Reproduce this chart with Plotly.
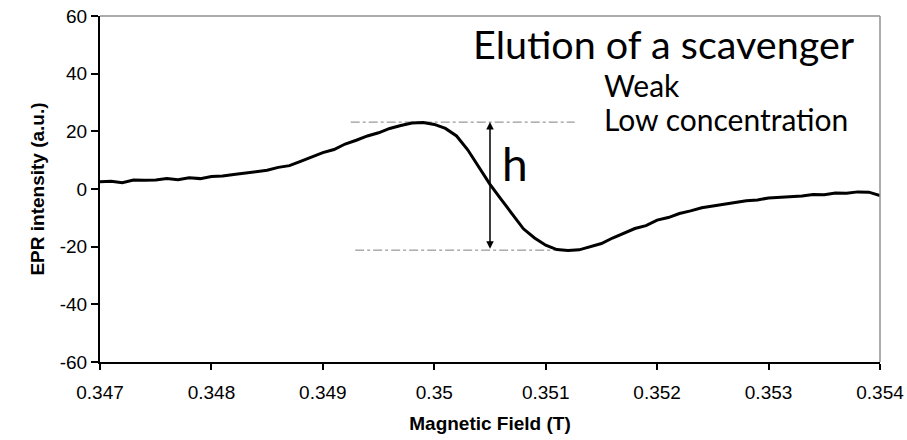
import plotly.graph_objects as go

# Magnetic field (T) and EPR intensity (a.u.)
field = [0.3470, 0.3471, 0.3472, 0.3473, 0.3474, 0.3475, 0.3476, 0.3477, 0.3478, 0.3479,
         0.3480, 0.3481, 0.3482, 0.3483, 0.3484, 0.3485, 0.3486, 0.3487, 0.3488, 0.3489,
         0.3490, 0.3491, 0.3492, 0.3493, 0.3494, 0.3495, 0.3496, 0.3497, 0.3498, 0.3499,
         0.3500, 0.3501, 0.3502, 0.3503, 0.3504, 0.3505, 0.3506, 0.3507, 0.3508, 0.3509,
         0.3510, 0.3511, 0.3512, 0.3513, 0.3514, 0.3515, 0.3516, 0.3517, 0.3518, 0.3519,
         0.3520, 0.3521, 0.3522, 0.3523, 0.3524, 0.3525, 0.3526, 0.3527, 0.3528, 0.3529,
         0.3530, 0.3531, 0.3532, 0.3533, 0.3534, 0.3535, 0.3536, 0.3537, 0.3538, 0.3539,
         0.3540]
intensity = [2.5, 2.7, 2.2, 3.1, 3.0, 3.1, 3.6, 3.2, 3.9, 3.6,
             4.3, 4.5, 5.0, 5.5, 6.1, 6.5, 7.5, 8.1, 9.6, 11.2,
             12.6, 13.7, 15.6, 16.9, 18.4, 19.5, 21.0, 22.0, 22.9, 23.1,
             22.4, 21.0, 18.4, 13.6, 7.5, 1.6, -3.6, -8.7, -13.8, -17.0,
             -19.5, -21.0, -21.3, -21.1, -20.0, -18.9, -17.0, -15.4, -13.7, -12.7,
             -10.8, -9.9, -8.5, -7.6, -6.5, -5.9, -5.2, -4.7, -4.1, -3.8,
             -3.1, -2.9, -2.5, -2.4, -1.9, -2.0, -1.4, -1.5, -1.0, -1.1,
             -2.3]

x_ticks = [0.347, 0.348, 0.349, 0.350, 0.351, 0.352, 0.353, 0.354]
x_ticktext = ["0.347", "0.348", "0.349", "0.35", "0.351", "0.352", "0.353", "0.354"]
y_ticks = [-60, -40, -20, 0, 20, 40, 60]
y_ticktext = ["-60", "-40", "-20", "0", "20", "40", "60"]

# peak-to-peak marker
h_field = 0.3505
peak_level = 23.2
trough_level = -21.2
peak_line_x = [0.34925, 0.35126]
trough_line_x = [0.34929, 0.35128]

fig = go.Figure()

fig.add_trace(go.Scatter(x=peak_line_x, y=[peak_level, peak_level], mode="lines",
                         line=dict(color="#808080", width=1, dash="dashdot"),
                         showlegend=False, hoverinfo="skip"))
fig.add_trace(go.Scatter(x=trough_line_x, y=[trough_level, trough_level], mode="lines",
                         line=dict(color="#808080", width=1, dash="dashdot"),
                         showlegend=False, hoverinfo="skip"))

fig.add_trace(go.Scatter(x=field, y=intensity, mode="lines",
                         line=dict(color="black", width=3),
                         showlegend=False))

fig.add_annotation(x=h_field, y=peak_level, ax=h_field, ay=trough_level,
                   xref="x", yref="y", axref="x", ayref="y",
                   text="", showarrow=True, arrowhead=2, startarrowhead=2,
                   arrowside="end+start", arrowsize=1, arrowwidth=1.5,
                   arrowcolor="black", standoff=0, startstandoff=0)

fig.add_annotation(x=h_field, y=(peak_level + trough_level) / 2 + 8, xref="x", yref="y",
                   text="h", showarrow=False, xanchor="left", xshift=10,
                   font=dict(family="Lato", size=46, color="black"))

title_font = dict(family="Lato", size=39.5, color="black")
sub_font = dict(family="Lato", size=30, color="black")
fig.add_annotation(x=0.476, y=0.92, xref="paper", yref="paper",
                   text="Elution of a scavenger", showarrow=False,
                   xanchor="left", yanchor="middle", font=title_font)
fig.add_annotation(x=0.643, y=0.80, xref="paper", yref="paper",
                   text="Weak", showarrow=False,
                   xanchor="left", yanchor="middle", font=sub_font)
fig.add_annotation(x=0.643, y=0.703, xref="paper", yref="paper",
                   text="Low concentration", showarrow=False,
                   xanchor="left", yanchor="middle", font=sub_font)

# top and right frame lines (grey)
fig.add_shape(type="line", xref="paper", yref="paper", x0=0, x1=1, y0=1, y1=1,
              line=dict(color="#909090", width=1.5))
fig.add_shape(type="line", xref="paper", yref="paper", x0=1, x1=1, y0=0, y1=1,
              line=dict(color="#909090", width=1.5))

axis_font = dict(family="Liberation Sans, Arial", size=19, color="black")
title_axis_font = dict(family="Liberation Sans, Arial", size=19, color="black")
fig.update_layout(
    width=907, height=440,
    margin=dict(l=100, r=27, t=16, b=78),
    plot_bgcolor="white", paper_bgcolor="white",
    xaxis=dict(range=[0.347, 0.354], tickvals=x_ticks, ticktext=x_ticktext,
               showgrid=False, zeroline=False, showline=True, linecolor="black",
               linewidth=2, ticks="outside", ticklen=6, tickwidth=2, tickcolor="black",
               tickfont=axis_font, ticklabelstandoff=6, automargin=False,
               title=dict(text="<b>Magnetic Field (T)</b>", standoff=15, font=title_axis_font)),
    yaxis=dict(range=[-60, 60], tickvals=y_ticks, ticktext=y_ticktext,
               showgrid=False, zeroline=False, showline=True, linecolor="black",
               linewidth=2, ticks="outside", ticklen=7, tickwidth=2, tickcolor="black",
               tickfont=axis_font, ticklabelstandoff=0, automargin=False,
               title=dict(text="<b>EPR intensity (a.u.)</b>", standoff=10, font=title_axis_font)),
)

fig.write_html("out.html")
